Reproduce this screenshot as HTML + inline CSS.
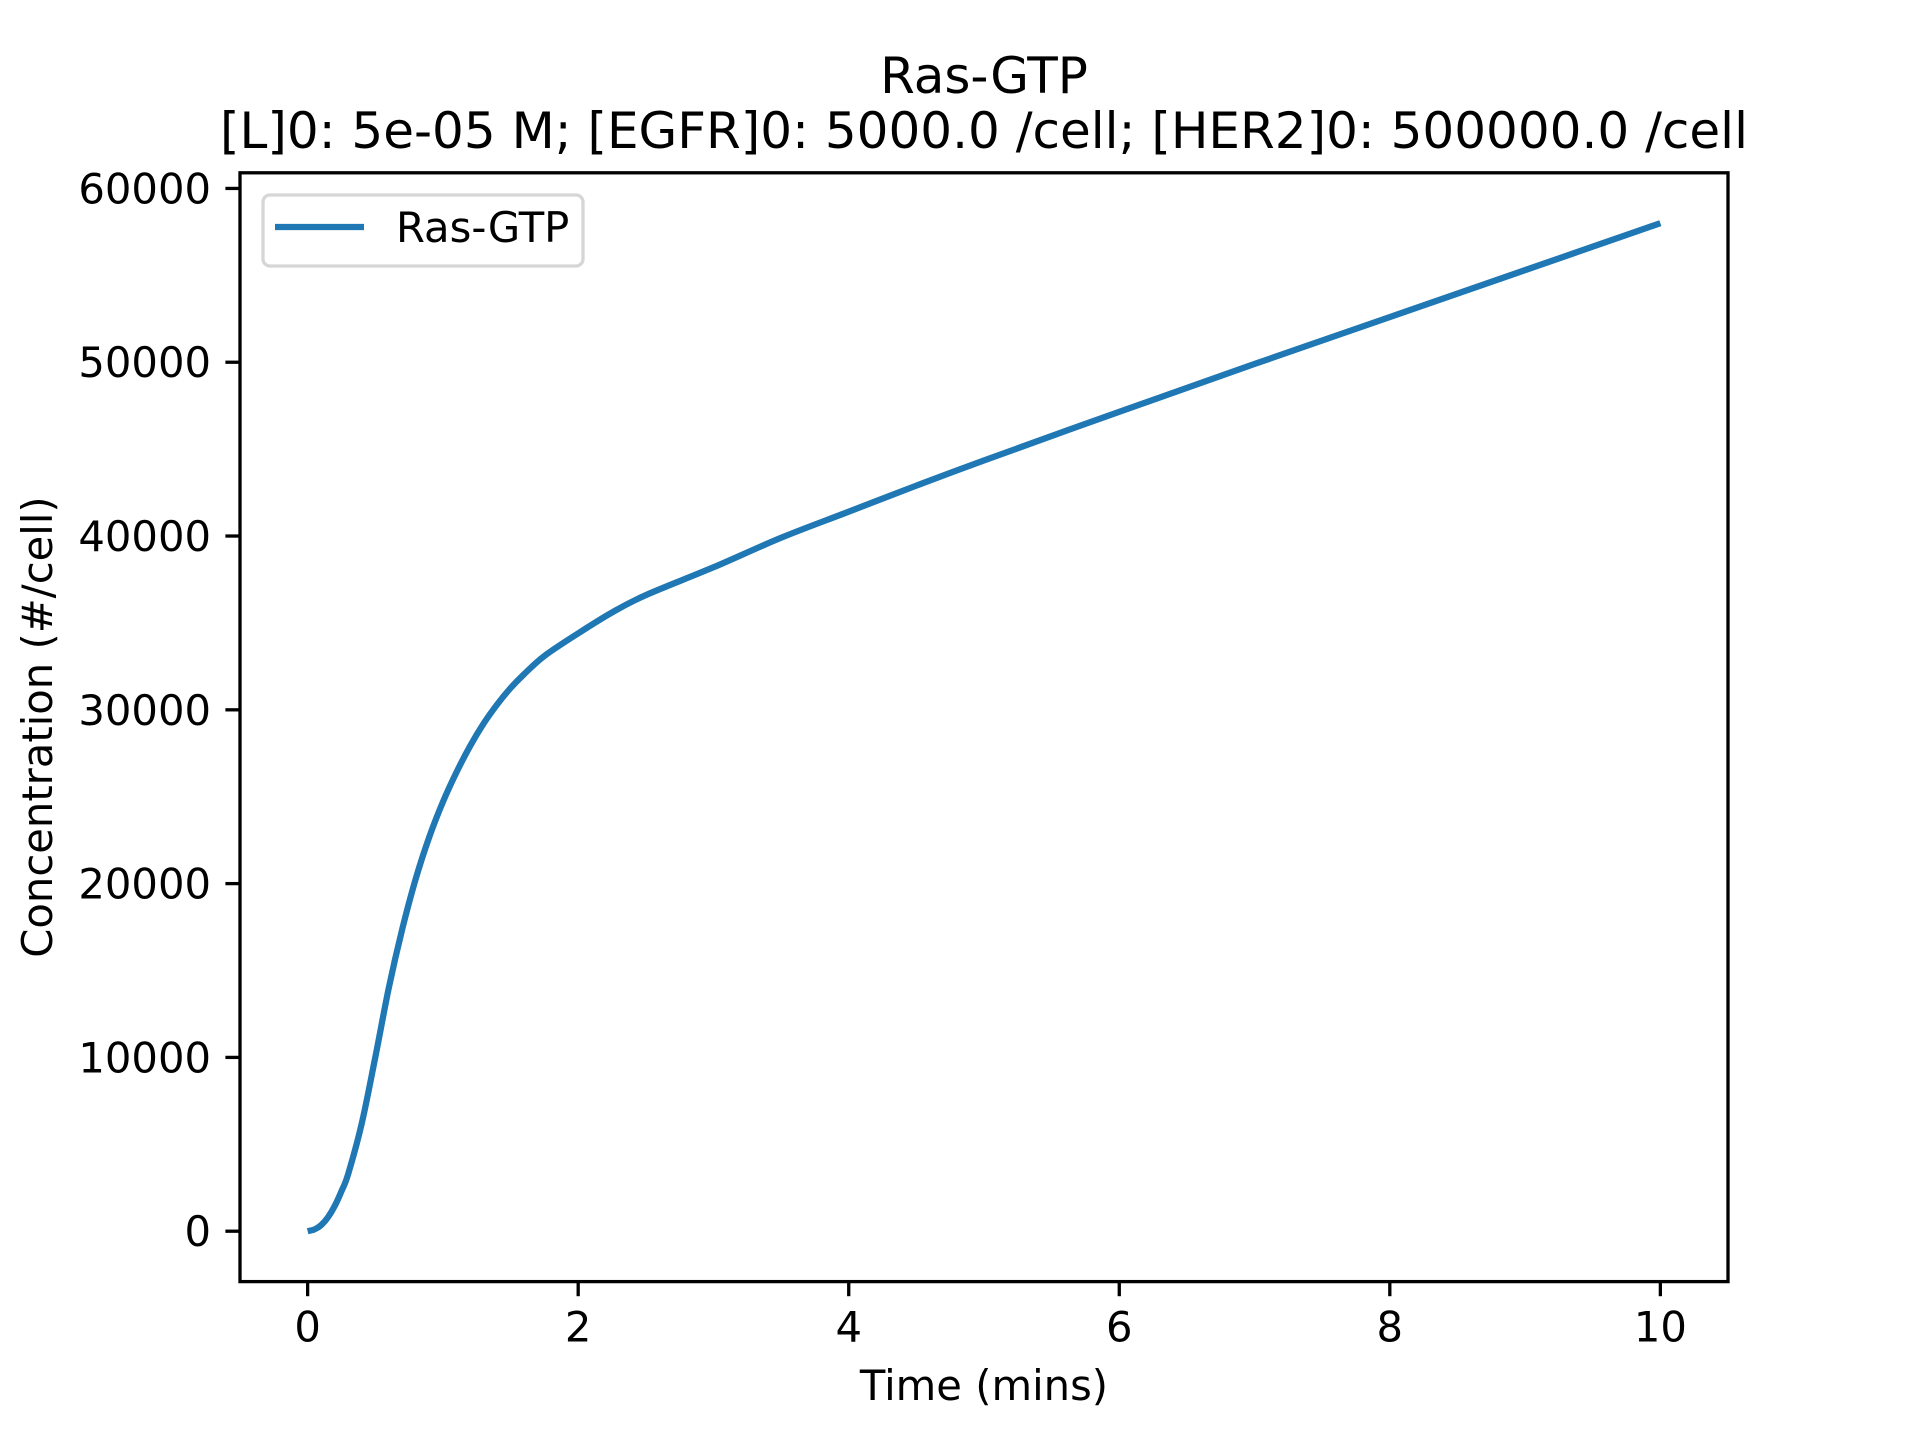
<!DOCTYPE html>
<html><head><meta charset="utf-8"><style>
html,body{margin:0;padding:0;background:#fff}
svg{display:block;font-family:"DejaVu Sans","Liberation Sans",sans-serif}
</style></head><body>
<svg id="chart" width="1920" height="1440" viewBox="0 0 1920 1440">
<rect width="1920" height="1440" fill="#fff"/>
<text x="984" y="93" font-size="50" text-anchor="middle">Ras-GTP</text>
<text x="984" y="148" font-size="50" text-anchor="middle">[L]0: 5e-05 M; [EGFR]0: 5000.0 /cell; [HER2]0: 500000.0 /cell</text>
<g id="ticks"></g>
<path id="series" fill="none" stroke="#1f77b4" stroke-width="6.25" stroke-linejoin="round"/>
<rect x="240" y="172.8" width="1488" height="1108.8" fill="none" stroke="#000" stroke-width="3.3"/>
<g>
<rect x="263" y="195" width="320" height="71" rx="7" fill="#fff" fill-opacity="0.8" stroke="#d6d6d6" stroke-width="3.3"/>
<line x1="275" y1="227" x2="364" y2="227" stroke="#1f77b4" stroke-width="6.25"/>
<text x="396" y="242" font-size="41.7">Ras-GTP</text>
</g>
<text x="984" y="1400" font-size="41.7" text-anchor="middle">Time (mins)</text>
<text x="0" y="0" font-size="41.7" text-anchor="middle" transform="translate(52,727) rotate(-90)">Concentration (#/cell)</text>
</svg>
<script>
const times = [0,0.05,0.1,0.15,0.2,0.25,0.3,0.4,0.5,0.6,0.7,0.8,0.9,1.0,1.1,1.2,1.3,1.4,1.5,1.6,1.75,2,2.25,2.5,3,3.5,4,4.5,5,6,7,8,9,10];
const values = [0,100,350,800,1450,2300,3300,6200,10000,14000,17400,20300,22700,24700,26400,27900,29200,30300,31250,32050,33100,34400,35600,36600,38200,39900,41400,42900,44350,47150,49900,52600,55300,58000];
const xTicks = [0,2,4,6,8,10];
const yTicks = [0,10000,20000,30000,40000,50000,60000];
const xMin=-0.5,xMax=10.5,yMin=-2900,yMax=60900;
const L=240,R=1728,T=172.8,B=1281.6;
function sx(v){return L+(v-xMin)/(xMax-xMin)*(R-L);}
function sy(v){return B-(v-yMin)/(yMax-yMin)*(B-T);}
const ns='http://www.w3.org/2000/svg';
const g=document.getElementById('ticks');
xTicks.forEach(t=>{
  const l=document.createElementNS(ns,'line');
  l.setAttribute('x1',sx(t));l.setAttribute('x2',sx(t));l.setAttribute('y1',B);l.setAttribute('y2',B+14.6);
  l.setAttribute('stroke','#000');l.setAttribute('stroke-width','3.3');
  
  
  g.appendChild(l);
  const tx=document.createElementNS(ns,'text');
  tx.setAttribute('x',sx(t));tx.setAttribute('y',B+60);tx.setAttribute('font-size','41.7');tx.setAttribute('text-anchor','middle');
  tx.textContent=t;
  
  
  g.appendChild(tx);
});
yTicks.forEach(t=>{
  const l=document.createElementNS(ns,'line');
  l.setAttribute('x1',L-14.6);l.setAttribute('x2',L);l.setAttribute('y1',sy(t));l.setAttribute('y2',sy(t));
  l.setAttribute('stroke','#000');l.setAttribute('stroke-width','3.3');
  
  
  g.appendChild(l);
  const tx=document.createElementNS(ns,'text');
  tx.setAttribute('x',L-29);tx.setAttribute('y',sy(t)+15);tx.setAttribute('font-size','41.7');tx.setAttribute('text-anchor','end');
  tx.textContent=t;
  
  
  g.appendChild(tx);
});
const pts=times.map((t,i)=>[sx(t),sy(values[i])]);
let d='M'+pts[0][0]+','+pts[0][1];
for(let i=0;i<pts.length-1;i++){
  const p0=pts[Math.max(0,i-1)],p1=pts[i],p2=pts[i+1],p3=pts[Math.min(pts.length-1,i+2)];
  const c1x=p1[0]+(p2[0]-p0[0])/6,c1y=p1[1]+(p2[1]-p0[1])/6;
  const c2x=p2[0]-(p3[0]-p1[0])/6,c2y=p2[1]-(p3[1]-p1[1])/6;
  d+=' C'+c1x+','+c1y+' '+c2x+','+c2y+' '+p2[0]+','+p2[1];
}
document.getElementById('series').setAttribute('d',d);
</script>
</body></html>
